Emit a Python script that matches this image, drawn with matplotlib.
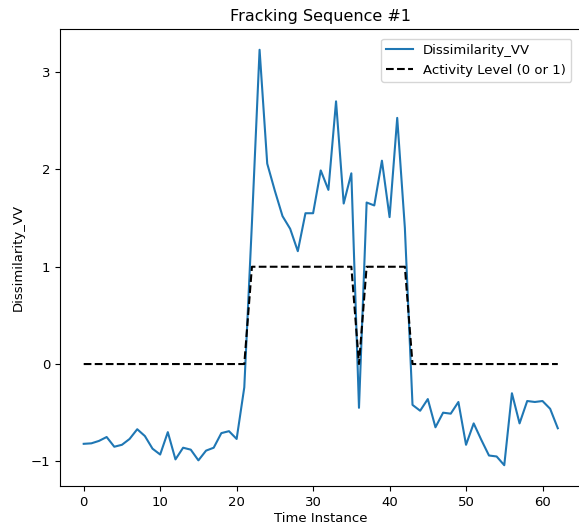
import matplotlib
matplotlib.use("Agg")
import matplotlib.pyplot as plt

# Time instances 0..62
time_instance = list(range(63))

# Dissimilarity values
dissimilarity_vv = [
    -0.82, -0.815, -0.79, -0.75, -0.85, -0.83, -0.77, -0.67, -0.74, -0.87,
    -0.93, -0.70, -0.98, -0.86, -0.88, -0.99, -0.89, -0.86, -0.71, -0.69,
    -0.77, -0.24, 1.45, 3.23, 2.06, 1.78, 1.52, 1.39, 1.16, 1.55,
    1.55, 1.99, 1.79, 2.70, 1.65, 1.96, -0.45, 1.66, 1.63, 2.09,
    1.51, 2.53, 1.40, -0.42, -0.48, -0.36, -0.65, -0.50, -0.51, -0.39,
    -0.83, -0.61, -0.78, -0.94, -0.95, -1.04, -0.30, -0.61, -0.38, -0.39,
    -0.38, -0.46, -0.66,
]

# Activity level (0 or 1)
activity = [0] * 22 + [1] * 14 + [0] + [1] * 6 + [0] * 20

plt.rcParams["font.size"] = 9.5

fig = plt.figure(figsize=(5.79, 5.23), dpi=100)
ax = fig.add_axes([60 / 579, 1 - 486 / 523, 521.5 / 579, 457 / 523])

ax.plot(time_instance, dissimilarity_vv, label="Dissimilarity_VV")
ax.plot(time_instance, activity, "k--", label="Activity Level (0 or 1)")

ax.set_title("Fracking Sequence #1", fontsize=11.5)
ax.set_xlabel("Time Instance", labelpad=2)
ax.set_ylabel("Dissimilarity_VV")
ax.legend(loc="upper right", bbox_to_anchor=(0.993, 0.993))

fig.savefig("out.png", dpi=100)
